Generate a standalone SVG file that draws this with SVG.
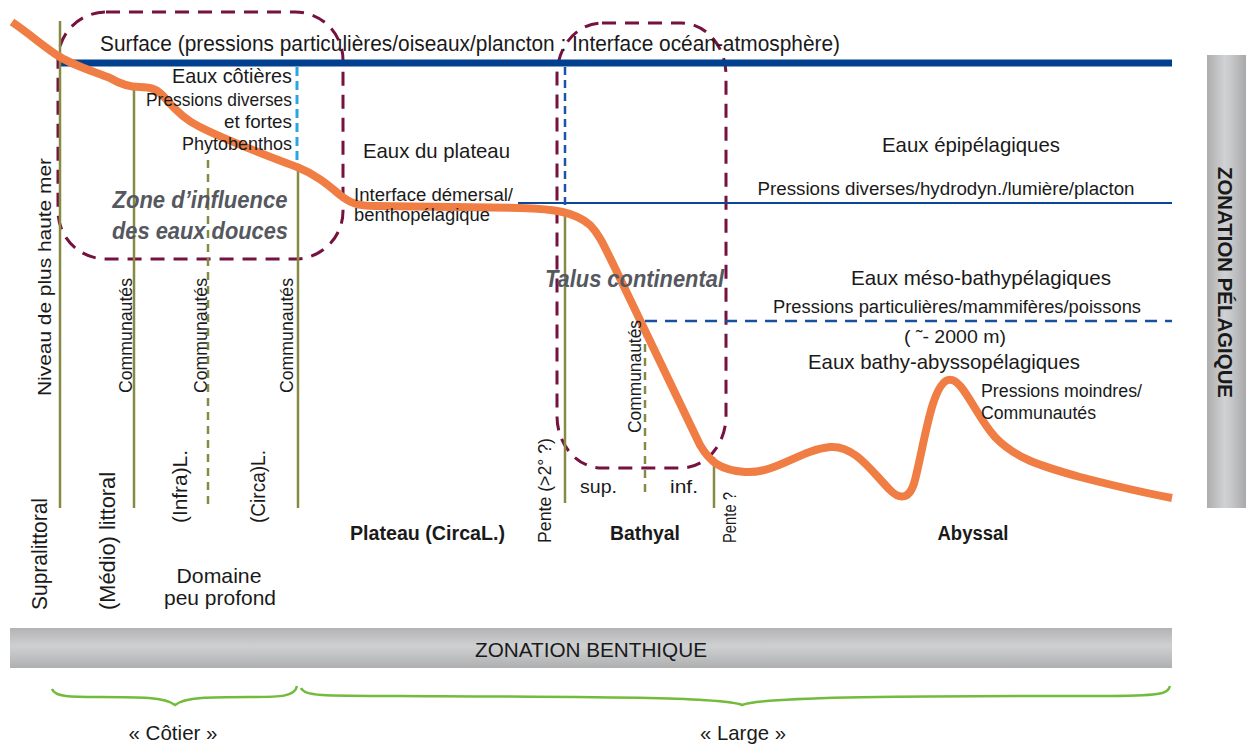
<svg xmlns="http://www.w3.org/2000/svg" width="1250" height="746" viewBox="0 0 1250 746">
<defs>
<linearGradient id="gb" x1="0" y1="0" x2="0" y2="1">
<stop offset="0" stop-color="#b3b3b4"/>
<stop offset="0.45" stop-color="#cfd0d2"/>
<stop offset="0.6" stop-color="#c6c7c9"/>
<stop offset="1" stop-color="#afafb0"/>
</linearGradient>
<linearGradient id="gp" x1="0" y1="0" x2="1" y2="0">
<stop offset="0" stop-color="#adadae"/>
<stop offset="0.45" stop-color="#d0d1d3"/>
<stop offset="0.6" stop-color="#c8c9cb"/>
<stop offset="1" stop-color="#a9a9aa"/>
</linearGradient>
</defs>
<style>
text{font-family:"Liberation Sans Narrow","Liberation Sans",sans-serif;fill:#1a1a1a}
.s16{font-size:18px}.s17{font-size:19px}.s19{font-size:21px}.s20{font-size:22px}
.b{font-weight:bold;font-size:20px}
.it{font-style:italic;font-weight:bold;font-size:23px;fill:#55585e}
.ol{stroke:#868a42;stroke-width:2.5;fill:none}
.old{stroke:#868a42;stroke-width:2.5;fill:none;stroke-dasharray:8 6}
.mz{stroke:#76123f;stroke-width:3;fill:none;stroke-dasharray:14 9}
.br{stroke:#72bb3c;stroke-width:2.5;fill:none}
</style>
<rect width="1250" height="746" fill="#ffffff"/>

<g id="bars">
<rect x="10" y="628" width="1162" height="40" fill="url(#gb)"/>
<text x="591" y="657" class="s19" text-anchor="middle" textLength="232" lengthAdjust="spacingAndGlyphs">ZONATION BENTHIQUE</text>
<rect x="1207" y="55" width="39" height="453" fill="url(#gp)"/>
<text transform="translate(1218,167) rotate(90)" class="s19" font-weight="bold" textLength="231" lengthAdjust="spacingAndGlyphs">ZONATION PÉLAGIQUE</text>
</g>

<g id="zones">
<rect id="zone-douce" x="58" y="12" width="285" height="247" rx="48" class="mz"/>
<rect id="zone-talus" x="557" y="23" width="169" height="445" rx="45" ry="52" class="mz"/>
</g>

<g id="connectors">
<line x1="60" y1="63" x2="1172" y2="63" stroke="#00408f" stroke-width="7"/>
<line x1="518" y1="203" x2="1172" y2="203" stroke="#0b4798" stroke-width="2.2"/>
<line x1="645" y1="321" x2="1172" y2="321" stroke="#1850a0" stroke-width="2.5" stroke-dasharray="12 8"/>
<line x1="297" y1="67" x2="297" y2="166" stroke="#2aa6e0" stroke-width="3" stroke-dasharray="9 5"/>
<line x1="565" y1="67" x2="565" y2="210" stroke="#1b55a5" stroke-width="2.5" stroke-dasharray="8 5"/>
<line x1="60" y1="21" x2="60" y2="508" class="ol"/>
<line x1="134" y1="86" x2="134" y2="508" class="ol"/>
<line x1="208" y1="160" x2="208" y2="508" class="old"/>
<line x1="298" y1="168" x2="298" y2="508" class="ol"/>
<line x1="565" y1="210" x2="565" y2="503" class="ol"/>
<line x1="645" y1="330" x2="645" y2="496" class="old"/>
<line x1="714" y1="457" x2="714" y2="508" class="ol"/>
</g>

<g id="profile">
<path d="M12,22 C30,34 45,48 60,57 C75,66 95,72 110,78 C120,84 128,87 140,87 C152,87 158,90 165,98 C175,110 185,120 200,127 C230,142 265,155 297,167 C315,174 328,185 340,195 C350,203 358,206 375,206 L520,208 C555,209 575,212 590,225 C600,235 605,248 615,268 L700,445 C710,462 720,470 745,472 C775,474 800,450 830,447 C855,445 872,472 890,490 C900,500 910,500 915,480 C925,440 932,385 948,380 C962,376 975,415 995,437 C1015,458 1040,466 1080,477 C1115,486 1145,493 1172,498" fill="none" stroke="#ef7d44" stroke-width="8" stroke-linecap="butt" stroke-linejoin="round"/>
</g>

<g id="braces">
<path class="br" d="M52,689 C55,697 70,697 100,697 C140,697 165,697 175,705 C185,697 210,697 250,697 C280,697 295,697 297,686"/>
<path class="br" d="M301,688 C305,696 320,696 400,696 C600,697 720,697 742,705 C765,697 880,696 1100,696 C1160,696 1168,694 1170,686"/>
</g>

<g id="labels">
<text x="100" y="51" class="s20" textLength="740" lengthAdjust="spacingAndGlyphs">Surface (pressions particulières/oiseaux/plancton : Interface océan-atmosphère)</text>
<text x="292" y="83" class="s19" text-anchor="end" textLength="120" lengthAdjust="spacingAndGlyphs">Eaux côtières</text>
<text x="292" y="106" class="s17" text-anchor="end" textLength="146" lengthAdjust="spacingAndGlyphs">Pressions diverses</text>
<text x="292" y="128" class="s17" text-anchor="end" textLength="68" lengthAdjust="spacingAndGlyphs">et fortes</text>
<text x="292" y="150" class="s17" text-anchor="end" textLength="110" lengthAdjust="spacingAndGlyphs">Phytobenthos</text>
<text x="200" y="208" class="it" text-anchor="middle" textLength="175" lengthAdjust="spacingAndGlyphs">Zone d’influence</text>
<text x="200" y="239" class="it" text-anchor="middle" textLength="176" lengthAdjust="spacingAndGlyphs">des eaux douces</text>
<text x="363" y="158" class="s19" textLength="147" lengthAdjust="spacingAndGlyphs">Eaux du plateau</text>
<text x="354" y="201" class="s16" textLength="159" lengthAdjust="spacingAndGlyphs">Interface démersal/</text>
<text x="354" y="221" class="s16" textLength="136" lengthAdjust="spacingAndGlyphs">benthopélagique</text>
<text x="545" y="287" class="it" textLength="179" lengthAdjust="spacingAndGlyphs">Talus continental</text>
<text x="971" y="152" class="s19" text-anchor="middle" textLength="178" lengthAdjust="spacingAndGlyphs">Eaux épipélagiques</text>
<text x="946" y="195" class="s16" text-anchor="middle" textLength="377" lengthAdjust="spacingAndGlyphs">Pressions diverses/hydrodyn./lumière/placton</text>
<text x="981" y="285" class="s19" text-anchor="middle" textLength="260" lengthAdjust="spacingAndGlyphs">Eaux méso-bathypélagiques</text>
<text x="957" y="313" class="s16" text-anchor="middle" textLength="368" lengthAdjust="spacingAndGlyphs">Pressions particulières/mammifères/poissons</text>
<text x="955" y="343" class="s16" text-anchor="middle" textLength="102" lengthAdjust="spacingAndGlyphs">( ˜- 2000 m)</text>
<text x="944" y="369" class="s19" text-anchor="middle" textLength="272" lengthAdjust="spacingAndGlyphs">Eaux bathy-abyssopélagiques</text>
<text x="981" y="397" class="s16" textLength="161" lengthAdjust="spacingAndGlyphs">Pressions moindres/</text>
<text x="981" y="419" class="s16" textLength="115" lengthAdjust="spacingAndGlyphs">Communautés</text>
<text x="580" y="493" class="s17" textLength="37" lengthAdjust="spacingAndGlyphs">sup.</text>
<text x="670" y="493" class="s17" textLength="28" lengthAdjust="spacingAndGlyphs">inf.</text>
<text x="350" y="540" class="b" textLength="155" lengthAdjust="spacingAndGlyphs">Plateau (CircaL.)</text>
<text x="645" y="540" class="b" text-anchor="middle" textLength="70" lengthAdjust="spacingAndGlyphs">Bathyal</text>
<text x="973" y="540" class="b" text-anchor="middle" textLength="71" lengthAdjust="spacingAndGlyphs">Abyssal</text>
<text x="219" y="583" class="s19" text-anchor="middle" textLength="85" lengthAdjust="spacingAndGlyphs">Domaine</text>
<text x="220" y="605" class="s19" text-anchor="middle" textLength="112" lengthAdjust="spacingAndGlyphs">peu profond</text>
<text x="173" y="740" class="s19" text-anchor="middle" textLength="89" lengthAdjust="spacingAndGlyphs">« Côtier »</text>
<text x="743" y="740" class="s19" text-anchor="middle" textLength="86" lengthAdjust="spacingAndGlyphs">« Large »</text>
<text transform="translate(51,396) rotate(-90)" class="s17" textLength="238" lengthAdjust="spacingAndGlyphs">Niveau de plus haute mer</text>
<text transform="translate(132,393) rotate(-90)" class="s16" textLength="115" lengthAdjust="spacingAndGlyphs">Communautés</text>
<text transform="translate(207,393) rotate(-90)" class="s16" textLength="115" lengthAdjust="spacingAndGlyphs">Communautés</text>
<text transform="translate(293,393) rotate(-90)" class="s16" textLength="115" lengthAdjust="spacingAndGlyphs">Communautés</text>
<text transform="translate(641,433) rotate(-90)" class="s16" textLength="113" lengthAdjust="spacingAndGlyphs">Communautés</text>
<text transform="translate(47,610) rotate(-90)" class="s20" textLength="112" lengthAdjust="spacingAndGlyphs">Supralittoral</text>
<text transform="translate(115,610) rotate(-90)" class="s20" textLength="138" lengthAdjust="spacingAndGlyphs">(Médio) littoral</text>
<text transform="translate(187,523) rotate(-90)" class="s19" textLength="73" lengthAdjust="spacingAndGlyphs">(Infra)L.</text>
<text transform="translate(265,523) rotate(-90)" class="s19" textLength="73" lengthAdjust="spacingAndGlyphs">(Circa)L.</text>
<text transform="translate(551,543) rotate(-90)" class="s17" textLength="105" lengthAdjust="spacingAndGlyphs">Pente (&gt;2° ?)</text>
<text transform="translate(736,543) rotate(-90)" class="s17" textLength="51" lengthAdjust="spacingAndGlyphs">Pente ?</text>
</g>
</svg>
